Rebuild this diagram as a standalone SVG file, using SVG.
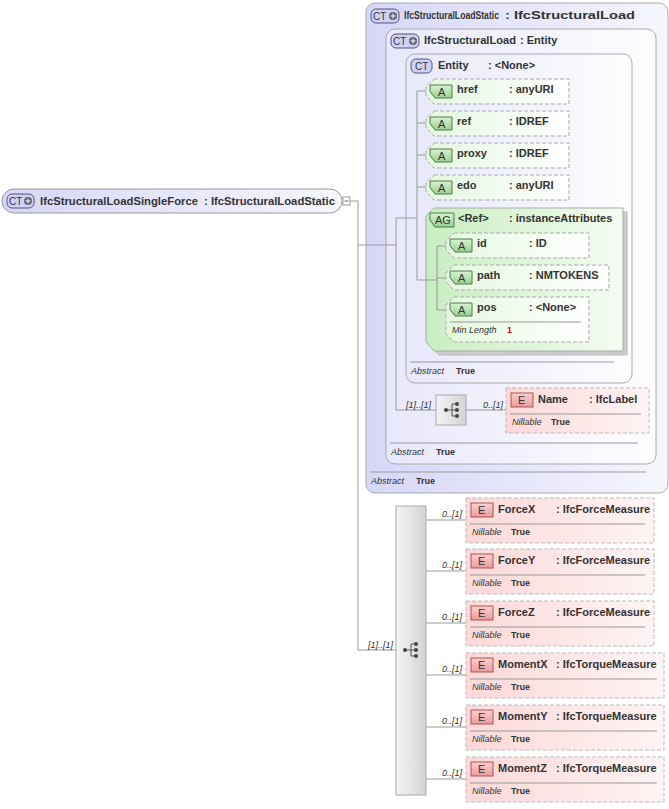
<svg xmlns="http://www.w3.org/2000/svg" width="669" height="809" viewBox="0 0 669 809">
<defs>
<linearGradient id="gCT" x1="0" y1="0" x2="1" y2="0"><stop offset="0" stop-color="#d6d6f8"/><stop offset="1" stop-color="#f6f6fe"/></linearGradient>
<linearGradient id="gBox" x1="0" y1="0" x2="1" y2="0"><stop offset="0" stop-color="#e8e8fb"/><stop offset="1" stop-color="#fdfdff"/></linearGradient>
<linearGradient id="gAG" x1="0" y1="0" x2="1" y2="0"><stop offset="0" stop-color="#c8eec0"/><stop offset="1" stop-color="#f4fcf2"/></linearGradient>
<linearGradient id="gA" x1="0" y1="0" x2="1" y2="0"><stop offset="0" stop-color="#e4f8e0"/><stop offset="1" stop-color="#ffffff"/></linearGradient>
<linearGradient id="gE" x1="0" y1="0" x2="1" y2="0"><stop offset="0" stop-color="#fcd8d8"/><stop offset="1" stop-color="#fff4f4"/></linearGradient>
<linearGradient id="gSeq" x1="0" y1="0" x2="1" y2="0"><stop offset="0" stop-color="#f4f4f4"/><stop offset="1" stop-color="#d4d4d4"/></linearGradient>
<linearGradient id="gBadgeE" x1="0" y1="0" x2="0" y2="1"><stop offset="0" stop-color="#fbd0d0"/><stop offset="1" stop-color="#ec9a9a"/></linearGradient>
<linearGradient id="gBadgeA" x1="0" y1="0" x2="0" y2="1"><stop offset="0" stop-color="#d8f4d0"/><stop offset="1" stop-color="#98d090"/></linearGradient>
</defs>
<style>
text{font-family:"Liberation Sans",Arial,sans-serif;font-size:11px;fill:#333}
.b{font-weight:bold}
.i{font-style:italic;font-size:9px}
.v{font-weight:bold;font-size:9px}
.bt{font-size:10px;fill:#334}
.ct{fill:url(#gBox);stroke:#aaa;stroke-width:1}
.badge{fill:#d0d0f4;stroke:#55557a;stroke-width:1}
.att{fill:url(#gA);stroke:#aaa;stroke-dasharray:4 2}
.el{fill:url(#gE);stroke:#bbb;stroke-dasharray:4 2}
.sep{stroke:#999;stroke-width:1}
.con{fill:none;stroke:#999;stroke-width:1}
.red{fill:#d00;font-size:9px;font-weight:bold}
</style>

<g id="mainNode">
<rect x="2" y="189" width="340" height="24" rx="12" fill="url(#gCT)" stroke="#999"/>
<rect x="7" y="194" width="27" height="14" rx="5" class="badge"/>
<text x="9" y="205" class="bt">CT</text><circle cx="28" cy="201" r="4" fill="#667"/><path d="M25.5 201h5M28 198.5v5" stroke="#fff"/>
<text x="40" y="205" class="b" textLength="158" lengthAdjust="spacingAndGlyphs">IfcStructuralLoadSingleForce</text><text x="204" y="205" class="b" textLength="131" lengthAdjust="spacingAndGlyphs">: IfcStructuralLoadStatic</text>
<rect x="343" y="197" width="7" height="8" fill="#fff" stroke="#999"/><path d="M344.5 201h4" stroke="#666"/>
</g>

<g id="IfcStructuralLoadStatic">
<rect x="366" y="3" width="302" height="490" rx="9" fill="url(#gCT)" stroke="#aaa"/>
<rect x="371" y="9" width="28" height="14" rx="5" class="badge"/>
<text x="373" y="20" class="bt">CT</text><circle cx="393" cy="16" r="4" fill="#667"/><path d="M390.5 16h5M393 13.5v5" stroke="#fff"/>
<text x="404" y="19" class="b" textLength="95" lengthAdjust="spacingAndGlyphs">IfcStructuralLoadStatic</text><text x="505" y="19" class="b" textLength="130" lengthAdjust="spacingAndGlyphs">: IfcStructuralLoad</text>
<path d="M370 472H646" class="sep"/>
<text x="371" y="484" class="i">Abstract</text><text x="416" y="484" class="v">True</text>
</g>

<g id="IfcStructuralLoad">
<rect x="386" y="29" width="270" height="435" rx="9" class="ct"/>
<rect x="391" y="34" width="28" height="14" rx="5" class="badge"/>
<text x="393" y="45" class="bt">CT</text><circle cx="413" cy="41" r="4" fill="#667"/><path d="M410.5 41h5M413 38.5v5" stroke="#fff"/>
<text x="424" y="44" class="b" textLength="92" lengthAdjust="spacingAndGlyphs">IfcStructuralLoad</text><text x="520" y="44" class="b">: Entity</text>
<path d="M390 443H638" class="sep"/>
<text x="391" y="455" class="i">Abstract</text><text x="436" y="455" class="v">True</text>
</g>

<g id="Entity">
<rect x="406" y="54" width="226" height="329" rx="9" class="ct"/>
<rect x="411" y="59" width="21" height="14" rx="5" class="badge"/>
<text x="415" y="70" class="bt">CT</text>
<text x="438" y="69" class="b">Entity</text><text x="488" y="69" class="b">: &lt;None&gt;</text>
<path d="M410 362H614" class="sep"/>
<text x="411" y="374" class="i">Abstract</text><text x="456" y="374" class="v">True</text>
</g>

<g id="Ref">
<path d="M439 212H627V355H439L430 346V221Z" fill="#ccc" stroke="#bbb"/>
<path d="M434 208H623V351H434L426 342V216Z" fill="url(#gAG)" stroke="#aaa"/>
<path d="M430 213h24v14h-19l-5-7z" fill="url(#gBadgeA)" stroke="#4a7a4a"/><text x="435" y="224">AG</text>
<text x="458" y="222" class="b">&lt;Ref&gt;</text><text x="509" y="222" class="b">: instanceAttributes</text>
</g>

<g id="connectors" class="con">
<path d="M350 201H358V650H396M358 245H366"/>
<path d="M366 245H396M396 218V410H436M396 218H417M417 91V280H437M417 91H426M417 123H426M417 155H426M417 187H426"/>
<path d="M437 246V310H446M437 246H446M437 278H446"/>
<path d="M466 410H506"/>
<path d="M426 520H466M426 571H466M426 623H466M426 675H466M426 727H466M426 779H466"/>
</g>

<g id="href"><path d="M434 79H569V104H434L426 96V87Z" class="att"/><path d="M430 85h22v13h-17l-5-6.5z" fill="url(#gBadgeA)" stroke="#4a7a4a"/><text x="438" y="96">A</text><text x="457" y="93" class="b">href</text><text x="509" y="93" class="b">: anyURI</text></g>
<g id="ref"><path d="M434 111H569V136H434L426 128V119Z" class="att"/><path d="M430 117h22v13h-17l-5-6.5z" fill="url(#gBadgeA)" stroke="#4a7a4a"/><text x="438" y="128">A</text><text x="457" y="125" class="b">ref</text><text x="509" y="125" class="b">: IDREF</text></g>
<g id="proxy"><path d="M434 143H569V168H434L426 160V151Z" class="att"/><path d="M430 149h22v13h-17l-5-6.5z" fill="url(#gBadgeA)" stroke="#4a7a4a"/><text x="438" y="160">A</text><text x="457" y="157" class="b">proxy</text><text x="509" y="157" class="b">: IDREF</text></g>
<g id="edo"><path d="M434 175H569V200H434L426 192V183Z" class="att"/><path d="M430 181h22v13h-17l-5-6.5z" fill="url(#gBadgeA)" stroke="#4a7a4a"/><text x="438" y="192">A</text><text x="457" y="189" class="b">edo</text><text x="509" y="189" class="b">: anyURI</text></g>

<g id="id"><path d="M454 233H589V258H454L446 250V241Z" class="att"/><path d="M450 239h22v13h-17l-5-6.5z" fill="url(#gBadgeA)" stroke="#4a7a4a"/><text x="458" y="250">A</text><text x="477" y="247" class="b">id</text><text x="529" y="247" class="b">: ID</text></g>
<g id="path"><path d="M454 265H609V290H454L446 282V273Z" class="att"/><path d="M450 271h22v13h-17l-5-6.5z" fill="url(#gBadgeA)" stroke="#4a7a4a"/><text x="458" y="282">A</text><text x="477" y="279" class="b">path</text><text x="529" y="279" class="b">: NMTOKENS</text></g>
<g id="pos"><path d="M454 297H589V342H454L446 334V305Z" class="att"/><path d="M450 303h22v13h-17l-5-6.5z" fill="url(#gBadgeA)" stroke="#4a7a4a"/><text x="458" y="314">A</text><text x="477" y="311" class="b">pos</text><text x="529" y="311" class="b">: &lt;None&gt;</text><path d="M450 322H581" class="sep"/><text x="452" y="333" class="i">Min Length</text><text x="507" y="333" class="red">1</text></g>

<g id="seq1">
<rect x="436" y="395" width="30" height="30" fill="url(#gSeq)" stroke="#aaa"/>
<path d="M446 410h6M452 404v12M452 404h4M452 410h4M452 416h4" stroke="#555" fill="none"/><circle cx="446" cy="410" r="2" fill="#444"/><circle cx="457" cy="404" r="2" fill="#444"/><circle cx="457" cy="410" r="2" fill="#444"/><circle cx="457" cy="416" r="2" fill="#444"/>
<text x="406" y="408" class="i">[1]..[1]</text><text x="483" y="408" class="i">0..[1]</text>
</g>
<g id="Name"><rect x="506" y="388" width="143" height="45" class="el"/><rect x="511" y="393" width="22" height="14" fill="url(#gBadgeE)" stroke="#a55"/><text x="518" y="404">E</text><text x="538" y="403" class="b">Name</text><text x="589" y="403" class="b">: IfcLabel</text><path d="M510 414H641" class="sep"/><text x="512" y="425" class="i">Nillable</text><text x="551" y="425" class="v">True</text></g>

<g id="seq2">
<rect x="396" y="506" width="30" height="289" fill="url(#gSeq)" stroke="#aaa"/>
<path d="M405 650h6M411 644v12M411 644h4M411 650h4M411 656h4" stroke="#555" fill="none"/><circle cx="405" cy="650" r="2" fill="#444"/><circle cx="416" cy="644" r="2" fill="#444"/><circle cx="416" cy="650" r="2" fill="#444"/><circle cx="416" cy="656" r="2" fill="#444"/>
<text x="368" y="648" class="i">[1]..[1]</text>
<text x="442" y="517" class="i">0..[1]</text><text x="442" y="568" class="i">0..[1]</text><text x="442" y="620" class="i">0..[1]</text><text x="442" y="672" class="i">0..[1]</text><text x="442" y="724" class="i">0..[1]</text><text x="442" y="776" class="i">0..[1]</text>
</g>

<g id="ForceX"><rect x="466" y="498" width="188" height="45" class="el"/><rect x="471" y="503" width="22" height="14" fill="url(#gBadgeE)" stroke="#a55"/><text x="478" y="514">E</text><text x="498" y="513" class="b">ForceX</text><text x="556" y="513" class="b">: IfcForceMeasure</text><path d="M470 524H645" class="sep"/><text x="472" y="535" class="i">Nillable</text><text x="511" y="535" class="v">True</text></g>
<g id="ForceY"><rect x="466" y="549" width="188" height="45" class="el"/><rect x="471" y="554" width="22" height="14" fill="url(#gBadgeE)" stroke="#a55"/><text x="478" y="565">E</text><text x="498" y="564" class="b">ForceY</text><text x="556" y="564" class="b">: IfcForceMeasure</text><path d="M470 575H645" class="sep"/><text x="472" y="586" class="i">Nillable</text><text x="511" y="586" class="v">True</text></g>
<g id="ForceZ"><rect x="466" y="601" width="188" height="45" class="el"/><rect x="471" y="606" width="22" height="14" fill="url(#gBadgeE)" stroke="#a55"/><text x="478" y="617">E</text><text x="498" y="616" class="b">ForceZ</text><text x="556" y="616" class="b">: IfcForceMeasure</text><path d="M470 627H645" class="sep"/><text x="472" y="638" class="i">Nillable</text><text x="511" y="638" class="v">True</text></g>
<g id="MomentX"><rect x="466" y="653" width="198" height="45" class="el"/><rect x="471" y="658" width="22" height="14" fill="url(#gBadgeE)" stroke="#a55"/><text x="478" y="669">E</text><text x="498" y="668" class="b">MomentX</text><text x="556" y="668" class="b">: IfcTorqueMeasure</text><path d="M470 679H657" class="sep"/><text x="472" y="690" class="i">Nillable</text><text x="511" y="690" class="v">True</text></g>
<g id="MomentY"><rect x="466" y="705" width="198" height="45" class="el"/><rect x="471" y="710" width="22" height="14" fill="url(#gBadgeE)" stroke="#a55"/><text x="478" y="721">E</text><text x="498" y="720" class="b">MomentY</text><text x="556" y="720" class="b">: IfcTorqueMeasure</text><path d="M470 731H657" class="sep"/><text x="472" y="742" class="i">Nillable</text><text x="511" y="742" class="v">True</text></g>
<g id="MomentZ"><rect x="466" y="757" width="198" height="45" class="el"/><rect x="471" y="762" width="22" height="14" fill="url(#gBadgeE)" stroke="#a55"/><text x="478" y="773">E</text><text x="498" y="772" class="b">MomentZ</text><text x="556" y="772" class="b">: IfcTorqueMeasure</text><path d="M470 783H657" class="sep"/><text x="472" y="794" class="i">Nillable</text><text x="511" y="794" class="v">True</text></g>
</svg>
